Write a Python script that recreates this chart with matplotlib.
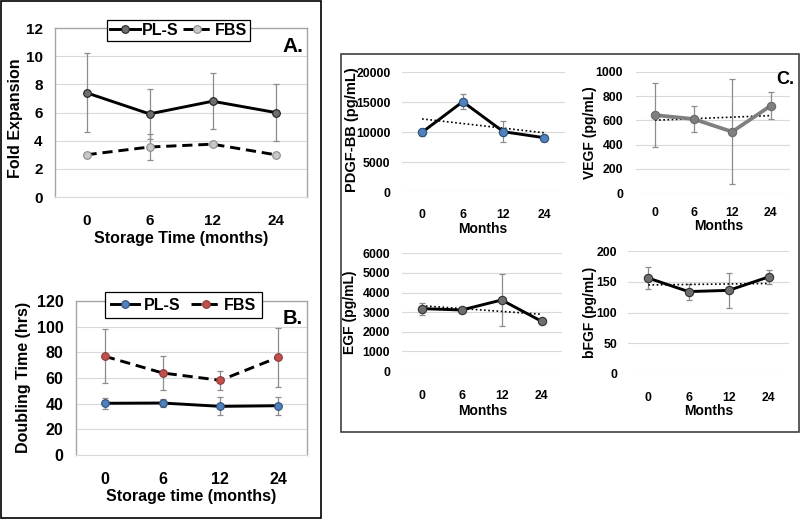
import numpy as np
import matplotlib
matplotlib.use("Agg")
import matplotlib.pyplot as plt
from matplotlib.patches import Rectangle

plt.rcParams['font.family'] = ['Liberation Sans', 'DejaVu Sans']
plt.rcParams['font.weight'] = 'bold'

# ---------------- data ----------------
months = ['0', '6', '12', '24']

fold_pls = [7.4, 5.9, 6.8, 6.0]
fold_pls_err = [2.8, 1.8, 2.0, 2.0]
fold_fbs = [3.0, 3.55, 3.75, 3.0]
fold_fbs_err = [0.0, 0.95, 0.0, 0.0]

dbl_pls = [40.3, 40.5, 37.9, 38.4]
dbl_pls_err = [4.3, 3.0, 7.0, 7.0]
dbl_fbs = [76.9, 63.9, 58.2, 76.1]
dbl_fbs_err = [21.0, 13.0, 7.3, 23.0]

pdgf = [10000, 15100, 10100, 9100]
pdgf_err = [600, 1300, 1700, 500]
vegf = [643, 611, 506, 720]
vegf_err = [260, 107, 432, 113]
egf = [3180, 3110, 3620, 2530]
egf_err = [300, 80, 1340, 0]
bfgf = [156, 134, 136, 158]
bfgf_err = [18, 13, 28, 11.5]

W, H = 800, 521
fig = plt.figure(figsize=(W / 100, H / 100), dpi=100)


def ax_px(l, t, r, b):
    return fig.add_axes([l / W, 1 - b / H, (r - l) / W, (b - t) / H])


def fx(x):
    return x / W


def fy(y):
    return 1 - y / H


# background frames
bg = fig.add_axes([0, 0, 1, 1])
bg.set_xlim(0, W)
bg.set_ylim(H, 0)
bg.set_axis_off()
bg.add_patch(Rectangle((0.8, 0.8), 320, 517, fill=False, ec='black', lw=1.2))
bg.add_patch(Rectangle((341, 54), 457.5, 378, fill=False, ec='#404040', lw=1.2))

x = np.arange(len(months))
GRID = '#d9d9d9'
ERR = '#8c8c8c'


def style_main(ax, ymax, ystep, xpad, ypad, fs):
    ax.set_xlim(-0.5, len(months) - 0.5)
    ax.set_ylim(0, ymax)
    ax.set_yticks(np.arange(0, ymax + 0.1, ystep))
    ax.set_xticks(x)
    ax.set_xticklabels(months)
    ax.grid(axis='y', color=GRID, lw=0.8)
    ax.set_axisbelow(True)
    for s in ['left', 'top', 'right']:
        ax.spines[s].set_color('#a6a6a6')
        ax.spines[s].set_linewidth(1.0)
    ax.spines['bottom'].set_color(GRID)
    ax.spines['bottom'].set_linewidth(0.8)
    ax.tick_params(length=0, labelsize=fs)
    ax.tick_params(axis='x', pad=xpad)
    ax.tick_params(axis='y', pad=ypad)
    for lab in ax.get_xticklabels() + ax.get_yticklabels():
        lab.set_fontweight('bold')


def make_legend(handles, center, hl, htp, cs, bp):
    leg = fig.legend(handles=handles, loc='center', bbox_to_anchor=center, ncol=2,
                     fontsize=11.5, frameon=True, fancybox=False, edgecolor='black', framealpha=1,
                     handlelength=hl, handletextpad=htp, columnspacing=cs, borderpad=bp,
                     borderaxespad=0)
    leg.get_frame().set_linewidth(0.9)
    for t in leg.get_texts():
        t.set_fontweight('bold')
    return leg


# ---------------- Panel A ----------------
axA = ax_px(55, 28, 307, 197)
style_main(axA, 12, 2, 12, 9, 11)
axA.errorbar(x, fold_pls, yerr=fold_pls_err, fmt='none', ecolor=ERR, elinewidth=0.9, capsize=2.5, capthick=0.9, zorder=2)
axA.errorbar(x, fold_fbs, yerr=fold_fbs_err, fmt='none', ecolor=ERR, elinewidth=0.9, capsize=2.5, capthick=0.9, zorder=2)
lA1, = axA.plot(x, fold_pls, '-', color='black', lw=2.1, marker='o', ms=5.5, mfc='#6e6e6e', mec='#202020', mew=0.8, zorder=3, label='PL-S')
lA2, = axA.plot(x, fold_fbs, color='black', lw=2.1, ls=(0, (3.5, 2)), marker='o', ms=5.5, mfc='#c8c8c8', mec='#8a8a8a', mew=0.8, zorder=3, label='FBS')
axA.set_ylabel('Fold Expansion', fontsize=11.5, fontweight='bold', va='center', ha='center')
axA.yaxis.set_label_coords(fx(16), fy(118), transform=fig.transFigure)
axA.set_xlabel('Storage Time (months)', fontsize=11.5, fontweight='bold', va='center', ha='center')
axA.xaxis.set_label_coords(fx(181), fy(238), transform=fig.transFigure)
make_legend([lA1, lA2], (fx(178.5), fy(30.5)), 1.85, 0.15, 0.25, 0.2)
fig.text(fx(282), fy(46), 'A.', fontsize=15, fontweight='bold', ha='left', va='center')

# ---------------- Panel B ----------------
axB = ax_px(76, 301, 307, 455)
style_main(axB, 120, 20, 12, 9, 11.5)
axB.errorbar(x, dbl_pls, yerr=dbl_pls_err, fmt='none', ecolor=ERR, elinewidth=0.9, capsize=2.5, capthick=0.9, zorder=2)
axB.errorbar(x, dbl_fbs, yerr=dbl_fbs_err, fmt='none', ecolor=ERR, elinewidth=0.9, capsize=2.5, capthick=0.9, zorder=2)
lB1, = axB.plot(x, dbl_pls, '-', color='black', lw=2.1, marker='o', ms=5.5, mfc='#4f81bd', mec='#2c4d75', mew=0.8, zorder=3, label='PL-S')
lB2, = axB.plot(x, dbl_fbs, color='black', lw=2.1, ls=(0, (3.5, 2)), marker='o', ms=5.5, mfc='#c0504d', mec='#8c3836', mew=0.8, zorder=3, label='FBS')
axB.set_ylabel('Doubling Time (hrs)', fontsize=11.5, fontweight='bold', va='center', ha='center')
axB.yaxis.set_label_coords(fx(24), fy(377), transform=fig.transFigure)
axB.set_xlabel('Storage time (months)', fontsize=11.5, fontweight='bold', va='center', ha='center')
axB.xaxis.set_label_coords(fx(191.5), fy(496), transform=fig.transFigure)
make_legend([lB1, lB2], (fx(183.5), fy(305)), 1.8, 0.25, 0.7, 0.35)
fig.text(fx(283), fy(319), 'B.', fontsize=14.5, fontweight='bold', ha='left', va='center')


# ---------------- Panel C ----------------
def small(box, vals, errs, ymax, ystep, ylabel, ylfs, ylab_xy, xlab_xy, xpad, ypad,
          lcolor, mfc, mec, lw):
    ax = ax_px(*box)
    ax.set_xlim(-0.5, len(months) - 0.5)
    ax.set_ylim(0, ymax)
    ax.set_yticks(np.arange(0, ymax + 0.1, ystep))
    ax.set_xticks(x)
    ax.set_xticklabels(months)
    ax.grid(axis='y', color=GRID, lw=0.8)
    ax.set_axisbelow(True)
    for s in ax.spines.values():
        s.set_visible(False)
    ax.tick_params(length=0, labelsize=8.8)
    ax.tick_params(axis='x', pad=xpad)
    ax.tick_params(axis='y', pad=ypad)
    for lab in ax.get_xticklabels() + ax.get_yticklabels():
        lab.set_fontweight('bold')
    ax.errorbar(x, vals, yerr=errs, fmt='none', ecolor=ERR, elinewidth=0.9, capsize=2.5, capthick=0.9, zorder=2)
    ax.plot(x, vals, '-', color=lcolor, lw=lw, marker='o', ms=6, mfc=mfc, mec=mec, mew=0.8, zorder=4)
    coef = np.polyfit(x, vals, 1)
    ax.plot(x, np.polyval(coef, x), color='black', lw=1.2, ls=(0, (1, 1.5)), zorder=3)
    ax.set_ylabel(ylabel, fontsize=ylfs, fontweight='bold', va='center', ha='center')
    ax.yaxis.set_label_coords(fx(ylab_xy[0]), fy(ylab_xy[1]), transform=fig.transFigure)
    ax.set_xlabel('Months', fontsize=10, fontweight='bold', va='center', ha='center')
    ax.xaxis.set_label_coords(fx(xlab_xy[0]), fy(xlab_xy[1]), transform=fig.transFigure)
    return ax


small((401.7, 72.3, 564.5, 192.3), pdgf, pdgf_err, 20000, 5000, 'PDGF-BB (pg/mL)', 10.5,
      (352, 130), (483, 229), 12, 8, 'black', '#4f81bd', '#2c4d75', 2.1)
small((635.7, 71.7, 790, 193.3), vegf, vegf_err, 1000, 200, 'VEGF (pg/mL)', 10,
      (590, 133), (719, 226), 10, 9, '#7f7f7f', '#7f7f7f', '#6a6a6a', 2.7)
small((401.7, 253.3, 561.7, 371), egf, egf_err, 6000, 1000, 'EGF (pg/mL)', 10,
      (350, 312), (483, 411), 14, 8.5, 'black', '#6e6e6e', '#303030', 2.1)
small((628.2, 251, 789, 374), bfgf, bfgf_err, 200, 50, 'bFGF (pg/mL)', 10,
      (590, 312), (709, 411), 13, 8, 'black', '#6e6e6e', '#303030', 2.1)
fig.text(fx(776), fy(79), 'C.', fontsize=13, fontweight='bold', ha='left', va='center')

fig.savefig('out.png', dpi=100)
